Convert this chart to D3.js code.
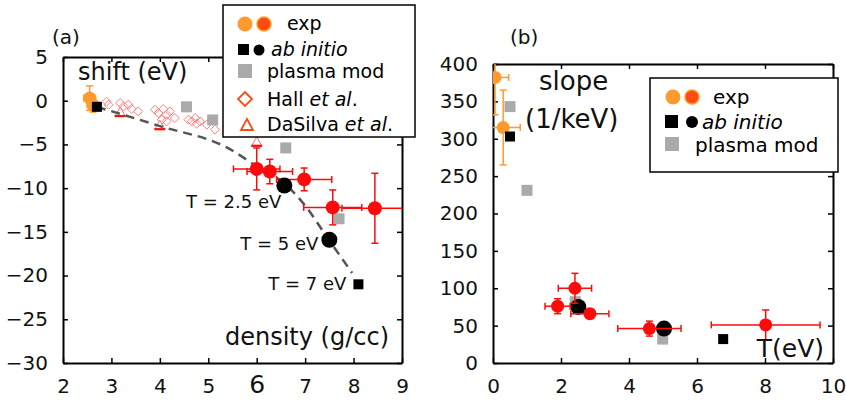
<!DOCTYPE html>
<html>
<head>
<meta charset="utf-8">
<script src="https://cdn.jsdelivr.net/npm/d3@7"></script>
<style>
  body { margin: 0; background: #fff; }
  svg { display: block; font-family: "DejaVu Sans", sans-serif; }
</style>
</head>
<body>
<svg id="chart" width="846" height="400"></svg>
<script>
// ---- panel (a): shift vs density ----
const xTicksA = [2, 3, 4, 5, 6, 7, 8, 9];
const yTicksA = [5, 0, -5, -10, -15, -20, -25, -30];
const expOrangeA = [
  { x: 2.55, y: 0.3, dx: 0.12, dy: 1.4 },
  { x: 2.62, y: -0.5, dx: 0.12, dy: 0.8 }
];
const expRedA = [
  { x: 6.0, y: -7.8, dx: 0.48, dy: 2.4 },
  { x: 6.27, y: -8.1, dx: 0.47, dy: 1.4 },
  { x: 6.98, y: -9.0, dx: 0.57, dy: 1.3 },
  { x: 7.57, y: -12.2, dx: 0.6, dy: 2.0 },
  { x: 8.44, y: -12.3, dx: 0.68, dy: 4.0 }
];
const abCircleA = [[6.57, -9.7], [7.5, -15.9]];
const abSquareA = [[2.7, -0.7], [8.1, -21.0]];
const abLabelsA = ["T = 2.5 eV", "T = 5 eV", "T = 7 eV"];
const plasmaA = [[4.55, -0.7], [5.09, -2.2], [6.6, -5.4], [7.7, -13.5]];
const hallA = [
  [2.90, -0.1], [2.94, -0.46], [3.18, -0.27], [3.25, -0.65], [3.35, -0.46],
  [3.42, -0.95], [3.55, -1.22], [3.90, -1.03], [3.97, -1.41], [4.07, -0.95],
  [4.14, -1.6], [4.21, -1.22], [4.31, -1.98], [4.04, -2.17], [4.14, -2.36],
  [4.59, -2.17], [4.66, -2.36], [4.73, -1.98], [4.76, -2.63], [4.83, -2.36],
  [4.97, -2.74], [5.14, -3.3]
];
const daSilvaA = [[3.18, -1.3], [4.0, -2.8], [6.0, -4.7]];
const fitCurveA = [
  [2.7, -0.7], [4.0, -2.9], [5.4, -5.4], [6.0, -7.5], [6.6, -9.6],
  [7.0, -12.0], [7.45, -15.6], [7.97, -19.7]
];

// ---- panel (b): slope vs T ----
const xTicksB = [0, 2, 4, 6, 8, 10];
const yTicksB = [0, 50, 100, 150, 200, 250, 300, 350, 400];
const expOrangeB = [
  { x: 0.06, y: 382, dx: 0.4, dy: 50 },
  { x: 0.3, y: 315, dx: 0.5, dy: 50 }
];
const expRedB = [
  { x: 1.9, y: 76, dx: 0.37, dy: 10 },
  { x: 2.41, y: 100, dx: 0.49, dy: 20 },
  { x: 2.85, y: 66, dx: 0.56, dy: 6 },
  { x: 4.6, y: 46, dx: 0.93, dy: 10 },
  { x: 8.02, y: 51, dx: 1.6, dy: 20 }
];
const abCircleB = [[2.51, 75], [5.03, 46]];
const abSquareB = [[0.5, 303], [6.77, 32]];
const plasmaB = [[0.5, 343], [1.0, 231], [2.42, 82], [4.99, 32]];

const ORANGE = "#ff9a2e", ORANGE_RED = "#ff4a12", RED = "#ff0a0a", GRAY = "#aaaaaa";

const svg = d3.select("#chart");
svg.append("rect").attr("width", 846).attr("height", 400).attr("fill", "#fff");

const xA = d3.scaleLinear().domain([2, 9]).range([63, 402]);
const yA = d3.scaleLinear().domain([-30, 5]).range([363, 57]);
const xB = d3.scaleLinear().domain([0, 10]).range([493, 833]);
const yB = d3.scaleLinear().domain([0, 400]).range([363, 64]);

function drawFrame(x, y, xTicks, yTicks) {
  const [x0, x1] = x.range();
  const [y0, y1] = y.range();
  const g = svg.append("g");
  const style = a => {
    a.selectAll("path.domain").attr("stroke-width", 2);
    a.selectAll(".tick line").attr("stroke-width", 1.5);
    a.selectAll("text").attr("font-size", 20).attr("font-family", "DejaVu Sans").attr("fill", "#111");
  };
  g.append("g").attr("transform", `translate(0,${y0})`)
    .call(d3.axisBottom(x).tickValues(xTicks).tickSize(-5).tickSizeOuter(0).tickPadding(16)
      .tickFormat(d3.format("d"))).call(style);
  g.append("g").attr("transform", `translate(${x0},0)`)
    .call(d3.axisLeft(y).tickValues(yTicks).tickSize(-5).tickSizeOuter(0).tickPadding(15)
      .tickFormat(d3.format("d"))).call(style);
  g.append("g").attr("transform", `translate(0,${y1})`)
    .call(d3.axisTop(x).tickValues(xTicks).tickSize(-5).tickSizeOuter(0).tickFormat("")).call(style);
  g.append("g").attr("transform", `translate(${x1},0)`)
    .call(d3.axisRight(y).tickValues(yTicks).tickSize(-5).tickSizeOuter(0).tickFormat("")).call(style);
  return g;
}

function clipFor(id, x, y) {
  const [x0, x1] = x.range();
  const [y0, y1] = y.range();
  svg.append("clipPath").attr("id", id).append("rect")
    .attr("x", x0).attr("y", y1).attr("width", x1 - x0).attr("height", y0 - y1);
  return svg.append("g").attr("clip-path", `url(#${id})`);
}

function errorBars(g, data, x, y, color) {
  const cap = 3.5;
  data.forEach(d => {
    const cx = x(d.x), cy = y(d.y);
    const xl = x(d.x - d.dx), xr = x(d.x + d.dx);
    const yt = y(d.y + d.dy), yb = y(d.y - d.dy);
    const eb = g.append("g").attr("stroke", color).attr("stroke-width", 1.5);
    eb.append("line").attr("x1", xl).attr("x2", xr).attr("y1", cy).attr("y2", cy);
    eb.append("line").attr("x1", cx).attr("x2", cx).attr("y1", yt).attr("y2", yb);
    eb.append("line").attr("x1", xl).attr("x2", xl).attr("y1", cy - cap).attr("y2", cy + cap);
    eb.append("line").attr("x1", xr).attr("x2", xr).attr("y1", cy - cap).attr("y2", cy + cap);
    eb.append("line").attr("x1", cx - cap).attr("x2", cx + cap).attr("y1", yt).attr("y2", yt);
    eb.append("line").attr("x1", cx - cap).attr("x2", cx + cap).attr("y1", yb).attr("y2", yb);
  });
}

function circles(g, data, x, y, r, color) {
  g.selectAll(null).data(data).join("circle")
    .attr("cx", d => x(d[0] ?? d.x)).attr("cy", d => y(d[1] ?? d.y))
    .attr("r", r).attr("fill", color);
}

function squares(g, data, x, y, s, color) {
  g.selectAll(null).data(data).join("rect")
    .attr("x", d => x(d[0]) - s / 2).attr("y", d => y(d[1]) - s / 2)
    .attr("width", s).attr("height", s).attr("fill", color);
}

// ---------- panel (a) ----------
drawFrame(xA, yA, xTicksA, yTicksA)
  .selectAll(".tick text").filter(d => d === 6)
  .attr("font-size", 25).attr("dy", "0.57em");

const gA = clipFor("clipA", xA, yA);

gA.selectAll(null).data(hallA).join("path")
  .attr("transform", d => `translate(${xA(d[0])},${yA(d[1])})`)
  .attr("d", "M0,-4.5L4.5,0L0,4.5L-4.5,0Z")
  .attr("fill", "none").attr("stroke", "#ff8080").attr("stroke-width", 1);

daSilvaA.forEach(d => {
  const cx = xA(d[0]), cy = yA(d[1]);
  gA.append("path").attr("d", `M${cx},${cy - 5}L${cx + 5},${cy + 4}L${cx - 5},${cy + 4}Z`)
    .attr("fill", "#fff").attr("stroke", "#ff7070").attr("stroke-width", 1);
  gA.append("line").attr("x1", cx - 5.5).attr("x2", cx + 5.5).attr("y1", cy + 4).attr("y2", cy + 4)
    .attr("stroke", RED).attr("stroke-width", 2.2);
});

squares(gA, plasmaA, xA, yA, 11, GRAY);

gA.append("path").datum(fitCurveA)
  .attr("d", d3.line().x(d => xA(d[0])).y(d => yA(d[1])).curve(d3.curveMonotoneX))
  .attr("fill", "none").attr("stroke", "#555").attr("stroke-width", 2.5)
  .attr("stroke-dasharray", "9,6");

errorBars(gA, expOrangeA, xA, yA, ORANGE);
circles(gA, expOrangeA, xA, yA, 6.5, ORANGE);
errorBars(gA, expRedA, xA, yA, RED);
circles(gA, expRedA, xA, yA, 7, RED);
circles(gA, abCircleA, xA, yA, 8, "#000");
squares(gA, abSquareA, xA, yA, 10, "#000");

const labelPts = [abCircleA[0], abCircleA[1], abSquareA[1]];
const labelOff = [[-3, 22], [-11, 10], [-12, 6]];
labelPts.forEach((p, i) => {
  svg.append("text").attr("x", xA(p[0]) + labelOff[i][0]).attr("y", yA(p[1]) + labelOff[i][1])
    .attr("text-anchor", "end").attr("font-size", 18).attr("fill", "#111").text(abLabelsA[i]);
});

svg.append("text").attr("x", 52).attr("y", 44).attr("font-size", 20).attr("fill", "#111").text("(a)");
svg.append("text").attr("x", 78).attr("y", 80).attr("font-size", 24).attr("fill", "#111").text("shift (eV)");
svg.append("text").attr("x", 389).attr("y", 345).attr("text-anchor", "end")
  .attr("font-size", 24).attr("fill", "#111").text("density (g/cc)");

// legend (a)
const legA = svg.append("g");
legA.append("rect").attr("x", 223).attr("y", 5).attr("width", 192).attr("height", 132)
  .attr("fill", "#fff").attr("stroke", "#000").attr("stroke-width", 1.5);
legA.append("circle").attr("cx", 245).attr("cy", 24).attr("r", 7.5).attr("fill", ORANGE);
legA.append("circle").attr("cx", 264).attr("cy", 24).attr("r", 7).attr("fill", ORANGE_RED)
  .attr("stroke", ORANGE).attr("stroke-width", 1.5);
legA.append("text").attr("x", 287).attr("y", 30).attr("font-size", 19).text("exp");
legA.append("rect").attr("x", 238).attr("y", 44).attr("width", 11).attr("height", 11).attr("fill", "#000");
legA.append("circle").attr("cx", 259).attr("cy", 50).attr("r", 5.5).attr("fill", "#000");
legA.append("text").attr("x", 271).attr("y", 56).attr("font-size", 19).attr("font-style", "italic").text("ab initio");
legA.append("rect").attr("x", 238).attr("y", 64).attr("width", 14).attr("height", 14).attr("fill", GRAY);
legA.append("text").attr("x", 267).attr("y", 78).attr("font-size", 19).text("plasma mod");
legA.append("path").attr("d", "M245,92L252,99L245,106L238,99Z")
  .attr("fill", "none").attr("stroke", ORANGE_RED).attr("stroke-width", 1.8);
const tHall = legA.append("text").attr("x", 267).attr("y", 106).attr("font-size", 19);
tHall.append("tspan").text("Hall ");
tHall.append("tspan").attr("font-style", "italic").text("et al");
tHall.append("tspan").text(".");
legA.append("path").attr("d", "M247,119L253,130L241,130Z")
  .attr("fill", "none").attr("stroke", ORANGE_RED).attr("stroke-width", 1.8);
const tDa = legA.append("text").attr("x", 267).attr("y", 131).attr("font-size", 19);
tDa.append("tspan").text("DaSilva ");
tDa.append("tspan").attr("font-style", "italic").text("et al");
tDa.append("tspan").text(".");

// ---------- panel (b) ----------
drawFrame(xB, yB, xTicksB, yTicksB);
const gB = clipFor("clipB", xB, yB);

squares(gB, plasmaB, xB, yB, 11, GRAY);
errorBars(gB, expOrangeB, xB, yB, ORANGE);
circles(gB, expOrangeB, xB, yB, 6.5, ORANGE);
squares(gB, abSquareB, xB, yB, 10, "#000");
circles(gB, abCircleB, xB, yB, 8, "#000");
errorBars(gB, expRedB, xB, yB, RED);
circles(gB, expRedB, xB, yB, 6.5, RED);

svg.append("text").attr("x", 510).attr("y", 44).attr("font-size", 20).attr("fill", "#111").text("(b)");
svg.append("text").attr("x", 539).attr("y", 90).attr("font-size", 26).attr("fill", "#111").text("slope");
svg.append("text").attr("x", 525).attr("y", 128).attr("font-size", 26).attr("fill", "#111").text("(1/keV)");
svg.append("text").attr("x", 824).attr("y", 357).attr("text-anchor", "end")
  .attr("font-size", 25).attr("fill", "#111").text("T(eV)");

// legend (b)
const legB = svg.append("g");
legB.append("rect").attr("x", 650).attr("y", 78).attr("width", 188).attr("height", 94)
  .attr("fill", "#fff").attr("stroke", "#000").attr("stroke-width", 1.5);
legB.append("circle").attr("cx", 673).attr("cy", 97).attr("r", 7.5).attr("fill", ORANGE);
legB.append("circle").attr("cx", 692).attr("cy", 97).attr("r", 7).attr("fill", ORANGE_RED)
  .attr("stroke", ORANGE).attr("stroke-width", 1.5);
legB.append("text").attr("x", 713).attr("y", 104).attr("font-size", 20).text("exp");
legB.append("rect").attr("x", 665).attr("y", 115).attr("width", 13).attr("height", 13).attr("fill", "#000");
legB.append("circle").attr("cx", 692).attr("cy", 122).attr("r", 6).attr("fill", "#000");
legB.append("text").attr("x", 702).attr("y", 129).attr("font-size", 20).attr("font-style", "italic").text("ab initio");
legB.append("rect").attr("x", 665).attr("y", 137).attr("width", 14).attr("height", 14).attr("fill", GRAY);
legB.append("text").attr("x", 695).attr("y", 152).attr("font-size", 20).text("plasma mod");
</script>
</body>
</html>
